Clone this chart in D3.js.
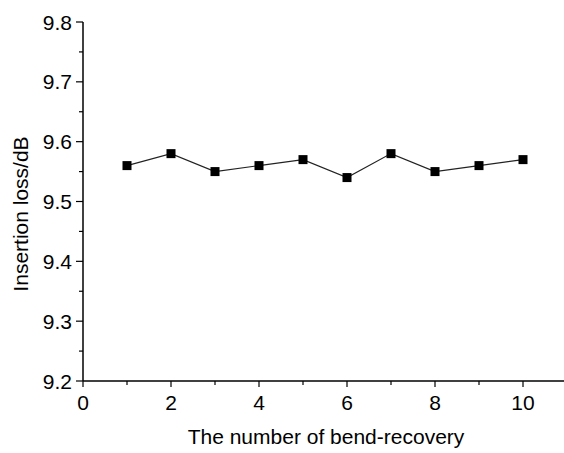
<!DOCTYPE html>
<html><head><meta charset="utf-8">
<script src="https://cdn.jsdelivr.net/npm/d3@7"></script>
<style>body{margin:0;background:#fff}svg{display:block}text{font-family:"Liberation Sans",Arial,sans-serif;fill:#000}</style>
</head><body>
<svg id="c" width="564" height="453"></svg>
<script>
const cycles = [1,2,3,4,5,6,7,8,9,10];
const loss = [9.56,9.58,9.55,9.56,9.57,9.54,9.58,9.55,9.56,9.57];
const xTicks = [0,2,4,6,8,10];
const yTicks = [9.2,9.3,9.4,9.5,9.6,9.7,9.8];
const xTitle = "The number of bend-recovery";
const yTitle = "Insertion loss/dB";

const svg = d3.select("#c");
const x = d3.scaleLinear().domain([0,11]).range([83,567]);
const y = d3.scaleLinear().domain([9.2,9.8]).range([381,22]);

const fs = 21;
// axes
const gx = svg.append("g").attr("transform","translate(0,381)");
gx.append("line").attr("x1",83).attr("x2",564).attr("stroke","#000").attr("stroke-width",1.5);
d3.range(0,11.01,1).forEach(v=>{
  const maj = v%2===0;
  gx.append("line").attr("x1",x(v)).attr("x2",x(v)).attr("y1",0).attr("y2",maj?6:4).attr("stroke","#000").attr("stroke-width",1.2);
});
xTicks.forEach(v=>gx.append("text").attr("x",x(v)).attr("y",29).attr("text-anchor","middle").attr("font-size",fs).text(v));

const gy = svg.append("g").attr("transform","translate(83,0)");
gy.append("line").attr("y1",y(9.8)).attr("y2",381).attr("stroke","#000").attr("stroke-width",1.5);
d3.range(0,13).map(i=>9.2+i*0.05).forEach((v,i)=>{
  const maj = i%2===0;
  gy.append("line").attr("x1",0).attr("x2",maj?-7:-4).attr("y1",y(v)).attr("y2",y(v)).attr("stroke","#000").attr("stroke-width",1.2);
});
yTicks.forEach(v=>gy.append("text").attr("x",-11).attr("y",y(v)).attr("dy","0.36em").attr("text-anchor","end").attr("font-size",fs).text(v.toFixed(1)));

// titles
svg.append("text").attr("x",326).attr("y",444).attr("text-anchor","middle").attr("font-size",21).text(xTitle);
svg.append("text").attr("transform","translate(28,214) rotate(-90)").attr("text-anchor","middle").attr("font-size",21).text(yTitle);

// line
const line = d3.line().x((d,i)=>x(cycles[i])).y(d=>y(d));
svg.append("path").datum(loss).attr("d",line).attr("fill","none").attr("stroke","#222").attr("stroke-width",1.1);
svg.selectAll("rect.m").data(loss).enter().append("rect").attr("class","m")
  .attr("x",(d,i)=>x(cycles[i])-4.5).attr("y",d=>y(d)-4.5).attr("width",9).attr("height",9).attr("fill","#000");
</script>
</body></html>
